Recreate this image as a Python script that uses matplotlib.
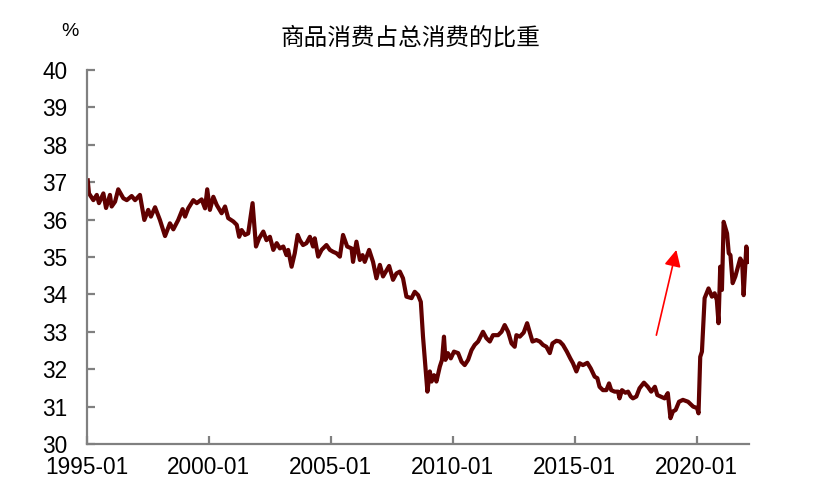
import numpy as np
import matplotlib.pyplot as plt

plt.rcParams['font.family'] = ['Liberation Sans', 'Noto Sans CJK SC', 'DejaVu Sans']

# time in decimal years (%)
t = [1995.03, 1995.08, 1995.26, 1995.40, 1995.49, 1995.67, 1995.78, 1995.94,
     1996.01, 1996.15, 1996.28, 1996.49, 1996.63, 1996.83, 1996.97, 1997.17,
     1997.35, 1997.51, 1997.62, 1997.79, 1997.99, 1998.20, 1998.40, 1998.54,
     1998.74, 1998.92, 1999.02, 1999.15, 1999.36, 1999.50, 1999.70, 1999.84,
     1999.93, 2000.04, 2000.18, 2000.32, 2000.52, 2000.66, 2000.79, 2001.00,
     2001.14, 2001.24, 2001.34, 2001.48, 2001.61, 2001.79, 2001.93, 2002.06,
     2002.23, 2002.36, 2002.50, 2002.64, 2002.78, 2002.91, 2003.05, 2003.18,
     2003.25, 2003.39, 2003.52, 2003.64, 2003.73, 2003.86, 2004.00, 2004.14,
     2004.27, 2004.34, 2004.48, 2004.62, 2004.82, 2004.96, 2005.09, 2005.23,
     2005.37, 2005.50, 2005.67, 2005.85, 2005.91, 2006.05, 2006.19, 2006.30,
     2006.39, 2006.57, 2006.73, 2006.87, 2007.01, 2007.14, 2007.39, 2007.55,
     2007.69, 2007.83, 2007.96, 2008.10, 2008.31, 2008.44, 2008.58, 2008.69,
     2008.78, 2008.89, 2008.96, 2009.06, 2009.13, 2009.23, 2009.33, 2009.47,
     2009.56, 2009.64, 2009.70, 2009.80, 2009.92, 2010.05, 2010.22, 2010.36,
     2010.49, 2010.63, 2010.77, 2010.90, 2011.04, 2011.24, 2011.38, 2011.52,
     2011.65, 2011.86, 2012.00, 2012.13, 2012.27, 2012.41, 2012.54, 2012.61,
     2012.75, 2012.91, 2013.05, 2013.13, 2013.27, 2013.43, 2013.57, 2013.70,
     2013.84, 2013.98, 2014.09, 2014.25, 2014.39, 2014.52, 2014.68, 2014.82,
     2014.93, 2015.07, 2015.20, 2015.34, 2015.52, 2015.66, 2015.82, 2015.93,
     2016.02, 2016.16, 2016.30, 2016.41, 2016.50, 2016.64, 2016.78, 2016.84,
     2016.94, 2017.08, 2017.19, 2017.30, 2017.39, 2017.53, 2017.66, 2017.84,
     2018.00, 2018.14, 2018.29, 2018.39, 2018.52, 2018.69, 2018.82, 2018.93,
     2019.03, 2019.14, 2019.28, 2019.44, 2019.65, 2019.86, 2020.02, 2020.08,
     2020.15, 2020.22, 2020.33, 2020.49, 2020.63, 2020.74, 2020.83, 2020.90,
     2020.97, 2021.04, 2021.11, 2021.25, 2021.32, 2021.39, 2021.48, 2021.59,
     2021.66, 2021.79, 2021.87, 2021.93, 2022.04, 2022.14]
share = [37.05, 36.70, 36.52, 36.66, 36.44, 36.70, 36.31, 36.66,
         36.35, 36.48, 36.81, 36.57, 36.52, 36.63, 36.52, 36.66,
         35.99, 36.26, 36.08, 36.33, 35.99, 35.56, 35.90, 35.74,
         35.99, 36.28, 36.08, 36.30, 36.52, 36.44, 36.54, 36.30,
         36.81, 36.26, 36.61, 36.39, 36.17, 36.35, 36.04, 35.95,
         35.86, 35.54, 35.72, 35.59, 35.63, 36.44, 35.28, 35.50,
         35.68, 35.45, 35.54, 35.19, 35.37, 35.23, 35.28, 35.05,
         35.19, 34.74, 35.10, 35.59, 35.45, 35.32, 35.37, 35.54,
         35.28, 35.50, 35.01, 35.19, 35.32, 35.19, 35.14, 35.10,
         35.01, 35.59, 35.28, 35.23, 34.87, 35.41, 34.92, 35.05,
         34.87, 35.19, 34.87, 34.43, 34.79, 34.48, 34.76, 34.39,
         34.56, 34.61, 34.43, 33.94, 33.90, 34.07, 33.98, 33.80,
         32.87, 31.98, 31.40, 31.94, 31.67, 31.84, 31.67, 32.07,
         32.25, 32.87, 32.25, 32.43, 32.29, 32.47, 32.43, 32.20,
         32.11, 32.25, 32.51, 32.65, 32.74, 33.00, 32.83, 32.74,
         32.91, 32.91, 33.00, 33.18, 33.00, 32.69, 32.60, 32.91,
         32.87, 32.98, 33.23, 33.05, 32.74, 32.78, 32.74, 32.65,
         32.60, 32.43, 32.69, 32.76, 32.74, 32.65, 32.47, 32.29,
         32.16, 31.94, 32.16, 32.11, 32.17, 32.02, 31.80, 31.76,
         31.53, 31.44, 31.44, 31.62, 31.44, 31.40, 31.40, 31.22,
         31.44, 31.37, 31.40, 31.27, 31.22, 31.27, 31.49, 31.64,
         31.53, 31.40, 31.53, 31.31, 31.27, 31.22, 31.36, 30.69,
         30.87, 30.91, 31.13, 31.18, 31.13, 31.00, 30.96, 30.82,
         32.33, 32.47, 33.90, 34.16, 33.94, 34.03, 33.85, 33.23,
         34.74, 34.12, 35.94, 35.63, 35.10, 35.05, 34.30, 34.48,
         34.65, 34.96, 34.87, 33.98, 35.28, 34.87]

xticks = [1995, 2000, 2005, 2010, 2015, 2020]
xlabels = ['1995-01', '2000-01', '2005-01', '2010-01', '2015-01', '2020-01']
yticks = list(range(30, 41))

fig = plt.figure(figsize=(8.21, 5.0), dpi=100)
ax = fig.add_axes([0.106, 0.112, 0.806, 0.748])

ax.plot(t, share, color='#600000', lw=3.0, solid_joinstyle='round')

# red arrow pointing up
ax.annotate('', xy=(2019.17, 35.19), xytext=(2018.35, 32.91),
            arrowprops=dict(arrowstyle='-|>', color='red', lw=1.2,
                            mutation_scale=25, shrinkA=0, shrinkB=0))

ax.set_xlim(1995.0, 2022.14)
ax.set_ylim(30, 40)
ax.set_xticks(xticks)
ax.set_xticklabels(xlabels)
ax.set_yticks(yticks)

for s in ['top', 'right']:
    ax.spines[s].set_visible(False)
for s in ['left', 'bottom']:
    ax.spines[s].set_color('#808080')
    ax.spines[s].set_linewidth(1.6)

ax.tick_params(axis='both', direction='in', length=6, width=1.6,
               color='#808080', labelsize=16.3)
ax.tick_params(axis='y', pad=14)
ax.tick_params(axis='x', pad=9)

fig.text(410 / 821, 1 - 38 / 500, '商品消费占总消费的比重', fontsize=17,
         ha='center', va='center')
fig.text(70 / 821, 1 - 32 / 500, '%', fontsize=14, ha='center', va='center')

fig.savefig('out.png', dpi=100)
